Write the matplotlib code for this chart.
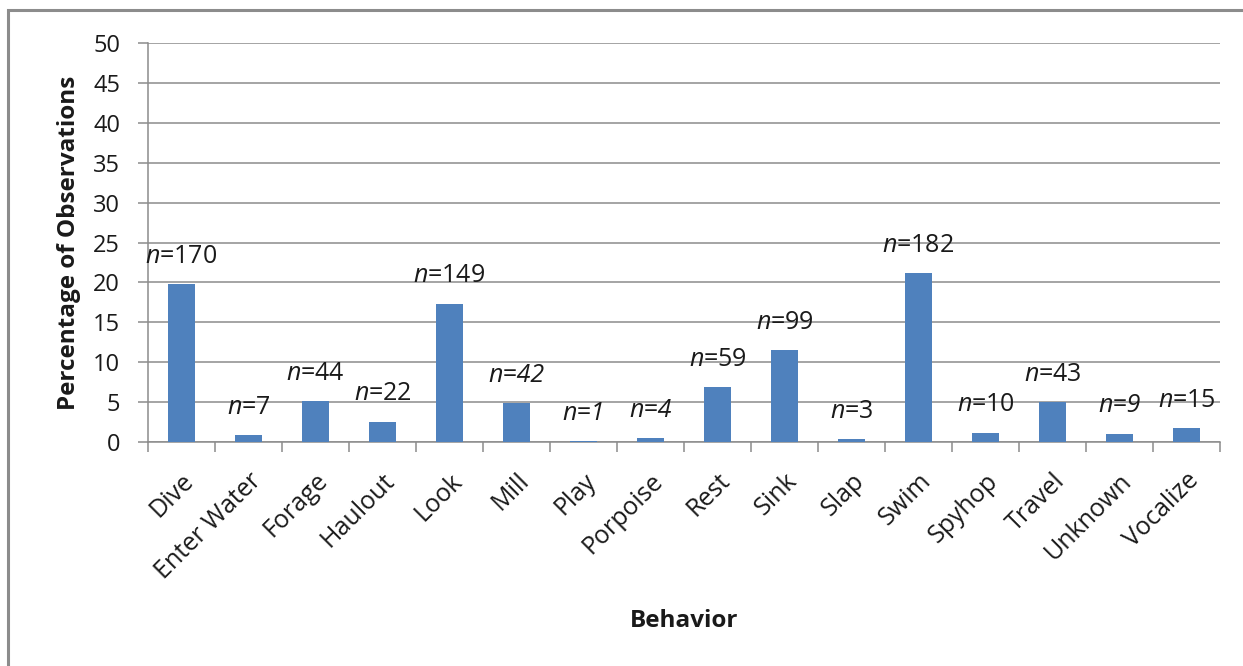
import matplotlib
matplotlib.use("Agg")
import matplotlib.pyplot as plt
import matplotlib.patches as patches
import numpy as np

plt.rcParams['font.family'] = ['Open Sans', 'DejaVu Sans']
plt.rcParams['mathtext.fontset'] = 'custom'
plt.rcParams['mathtext.it'] = 'Open Sans:italic'
plt.rcParams['mathtext.rm'] = 'Open Sans'

behaviors = ["Dive", "Enter Water", "Forage", "Haulout", "Look", "Mill", "Play",
             "Porpoise", "Rest", "Sink", "Slap", "Swim", "Spyhop", "Travel",
             "Unknown", "Vocalize"]
counts = [170, 7, 44, 22, 149, 42, 1, 4, 59, 99, 3, 182, 10, 43, 9, 15]
# labels typed fully in italics
italic_labels = {"Mill", "Play", "Porpoise", "Unknown"}

pct = np.array(counts) / sum(counts) * 100

grey = "#8c8c8c"
blue = "#4f81bd"
txt = "#1a1a1a"

fig = plt.figure(figsize=(12.43, 6.66), dpi=100)
ax = fig.add_axes([148 / 1243, 1 - 442 / 666, (1220 - 148) / 1243, (442 - 43) / 666])

x = np.arange(len(behaviors))
ax.bar(x, pct, width=0.4, color=blue, zorder=3)

for xi, p, c, b in zip(x, pct, counts, behaviors):
    if b in italic_labels:
        ax.annotate("n=%d" % c, (xi, p), xytext=(0, 20), textcoords="offset points",
                    ha="center", va="center", fontsize=18, style="italic", color=txt)
    else:
        ax.annotate("$n$=%d" % c, (xi, p), xytext=(0, 20), textcoords="offset points",
                    ha="center", va="center", fontsize=18, color=txt)

ax.set_xlim(-0.5, len(behaviors) - 0.5)
ax.set_ylim(0, 50)
ax.set_yticks(np.arange(0, 51, 5))
ax.yaxis.grid(True, color=grey, linewidth=1.1, zorder=0)
ax.set_axisbelow(True)

ax.set_xticks(x)
ax.set_xticklabels(behaviors, rotation=45, ha="right", rotation_mode="anchor",
                   fontsize=18, color=txt)
ax.set_xticks(np.arange(-0.5, len(behaviors)), minor=True)
ax.tick_params(axis="x", which="major", length=0, pad=19)
ax.tick_params(axis="x", which="minor", length=7, color=grey, width=1.1, direction="out")
ax.tick_params(axis="y", length=7, color=grey, width=1.1, labelsize=17, pad=13,
               labelcolor=txt)

for s in ["top", "right"]:
    ax.spines[s].set_visible(False)
for s in ["left", "bottom"]:
    ax.spines[s].set_color(grey)
    ax.spines[s].set_linewidth(1.1)

ax.set_ylabel("Percentage of Observations", fontsize=17.5, fontweight="bold",
              labelpad=9, color=txt)
ax.set_xlabel("Behavior", fontsize=17.5, fontweight="bold", color=txt)
ax.xaxis.set_label_coords(0.5, (442 - 609) / 399)

# outer chart border (only left and top edges fall inside the image)
fig.add_artist(patches.Rectangle((8 / 1243, -1), 2, 1 + (1 - 10 / 666),
                                 transform=fig.transFigure, fill=False,
                                 edgecolor=grey, linewidth=2.2))

fig.savefig("out.png", dpi=100)
